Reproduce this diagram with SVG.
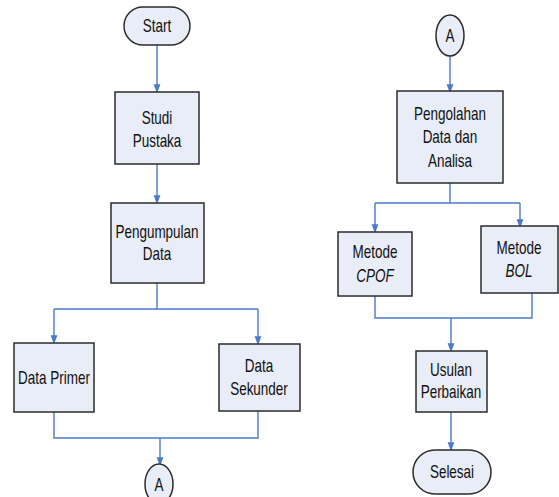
<svg xmlns="http://www.w3.org/2000/svg" width="559" height="497" viewBox="0 0 559 497">
<defs>
<marker id="ah" markerWidth="9" markerHeight="12" refX="9" refY="4.5" orient="auto" markerUnits="userSpaceOnUse" viewBox="0 0 12 9">
<path d="M0,0 L12,4.5 L0,9 Z" fill="#4A7AC8"/>
</marker>
<style>
.n{fill:#E8EDF7;stroke:#2b2b2b;stroke-width:1.5}
.c{fill:none;stroke:#4A7AC8;stroke-width:1.4}
.a{marker-end:url(#ah)}
text{font-family:"Liberation Sans",Arial,sans-serif;font-size:18px;fill:#111;text-anchor:middle}
.i{font-style:italic}
</style>
</defs>
<rect width="559" height="497" fill="#fff"/>
<g id="connectors">
<path class="c a" d="M157,45 V91"/>
<path class="c a" d="M157,164 V202"/>
<path class="c" d="M157,283 V309 M54,309 H258"/>
<path class="c a" d="M54,309 V342"/>
<path class="c a" d="M258,309 V343"/>
<path class="c" d="M54,412 V438 H258 V411"/>
<path class="c a" d="M160,438 V464"/>
<path class="c a" d="M450,56 V91"/>
<path class="c" d="M450,183 V203 M375,203 H520"/>
<path class="c a" d="M375,203 V231"/>
<path class="c a" d="M520,203 V226"/>
<path class="c" d="M375,296 V318 H532 V293"/>
<path class="c a" d="M451,318 V350"/>
<path class="c a" d="M451,412 V449"/>
</g>
<g id="start"><rect class="n" x="124" y="7" width="66" height="38" rx="19"/><text transform="translate(157,32) scale(0.75,1)">Start</text></g>
<g id="studi"><rect class="n" x="115" y="92" width="84" height="72"/><text transform="translate(157,124) scale(0.75,1)">Studi</text><text transform="translate(157,147) scale(0.75,1)">Pustaka</text></g>
<g id="pengumpulan"><rect class="n" x="111" y="203" width="93" height="80"/><text transform="translate(157,238) scale(0.75,1)">Pengumpulan</text><text transform="translate(157,260) scale(0.75,1)">Data</text></g>
<g id="primer"><rect class="n" x="14" y="343" width="80" height="69"/><text transform="translate(54,384) scale(0.75,1)">Data Primer</text></g>
<g id="sekunder"><rect class="n" x="219" y="344" width="81" height="67"/><text transform="translate(259,372) scale(0.75,1)">Data</text><text transform="translate(259,395) scale(0.75,1)">Sekunder</text></g>
<g id="a1"><ellipse class="n" cx="159" cy="484" rx="14" ry="20"/><text transform="translate(159,491) scale(0.75,1)">A</text></g>
<g id="a2"><ellipse class="n" cx="450" cy="35.5" rx="14" ry="20.5"/><text transform="translate(450,42) scale(0.75,1)">A</text></g>
<g id="pengolahan"><rect class="n" x="397" y="91" width="106" height="92"/><text transform="translate(450,120) scale(0.75,1)">Pengolahan</text><text transform="translate(450,143) scale(0.75,1)">Data dan</text><text transform="translate(450,167) scale(0.75,1)">Analisa</text></g>
<g id="cpof"><rect class="n" x="338" y="232" width="74" height="64"/><text transform="translate(375,258) scale(0.75,1)">Metode</text><text class="i" transform="translate(375,282) scale(0.75,1)">CPOF</text></g>
<g id="bol"><rect class="n" x="481" y="226" width="77" height="67"/><text transform="translate(519,254) scale(0.75,1)">Metode</text><text class="i" transform="translate(519,277) scale(0.75,1)">BOL</text></g>
<g id="usulan"><rect class="n" x="416" y="351" width="71" height="61"/><text transform="translate(451,376) scale(0.75,1)">Usulan</text><text transform="translate(451,398) scale(0.75,1)">Perbaikan</text></g>
<g id="selesai"><rect class="n" x="413" y="450" width="78" height="44" rx="22"/><text transform="translate(452,478) scale(0.75,1)">Selesai</text></g>
</svg>
